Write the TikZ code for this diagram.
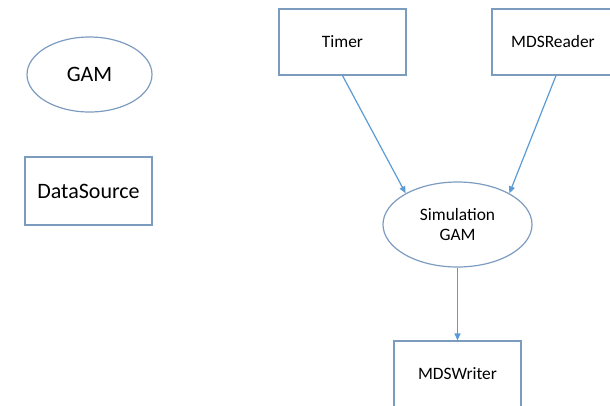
\documentclass[tikz,border=0pt]{standalone}
\usepackage{fontspec}
\setmainfont{Carlito}
\usepackage{xcolor}
\usepackage{tikz}
\usetikzlibrary{arrows.meta,shapes.geometric,calc}
\definecolor{edgeblue}{HTML}{7C9CBF}
\definecolor{arrowblue}{HTML}{5B9BD5}

\begin{document}
\begin{tikzpicture}[x=1pt,y=-1pt,
  box/.style={draw=edgeblue,line width=1.2pt,rectangle,inner sep=0pt,font=\fontsize{17.4}{20}\selectfont},
  blob/.style={draw=edgeblue,line width=1.2pt,ellipse,inner sep=0pt,font=\fontsize{17.4}{20}\selectfont,align=center},
  flow/.style={draw=arrowblue,line width=1.2pt,-{Triangle[length=7pt,width=6pt]}}]
\useasboundingbox (0,0) rectangle (610,405);
% legend
\node[blob,minimum width=125pt,minimum height=75pt,font=\fontsize{22}{24}\selectfont] (gam) at (89.5,74.5) {GAM};
\node[box,minimum width=127pt,minimum height=68pt,font=\fontsize{22}{24}\selectfont] (ds) at (88.5,191) {DataSource};
% data flow
\node[box,minimum width=127pt,minimum height=66pt] (timer) at (342.5,42) {Timer};
\node[box,minimum width=122pt,minimum height=66pt] (reader) at (553,42) {MDSReader};
\node[blob,minimum width=149pt,minimum height=85pt] (sim) at (457.5,224.5) {Simulation\\GAM};
\node[box,minimum width=127pt,minimum height=66pt] (writer) at (457.5,374) {MDSWriter};
\draw[flow] (timer.south) -- (sim.149);
\draw[flow] ([xshift=3pt]reader.south) -- (sim.31);
\draw[flow] (sim.south) -- (writer.north);
\end{tikzpicture}
\end{document}
